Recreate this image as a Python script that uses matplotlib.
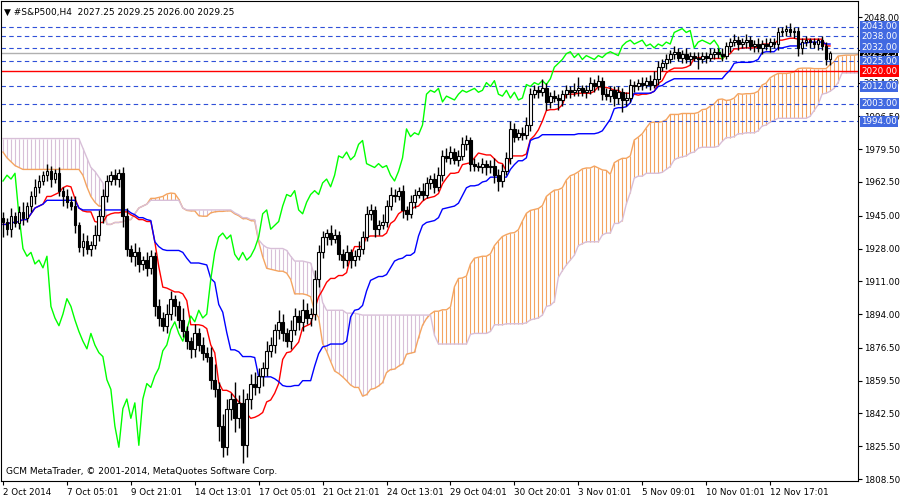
import numpy as np
import pandas as pd
import matplotlib
matplotlib.use("Agg")
import matplotlib.pyplot as plt
import matplotlib.transforms as mtransforms

# H4 closes
closes = [
    1942, 1938, 1945, 1941, 1947, 1944, 1950, 1955, 1960, 1963,
    1966, 1968, 1964, 1967, 1958, 1955, 1952, 1950, 1940, 1929,
    1932, 1928, 1930, 1935, 1945, 1955, 1963, 1966, 1964, 1967,
    1945, 1928, 1924, 1926, 1920, 1922, 1918, 1924, 1898, 1892,
    1888, 1894, 1902, 1898, 1891, 1885, 1880, 1876, 1884, 1878,
    1874, 1872, 1860, 1855, 1836, 1825, 1845, 1850, 1840, 1848,
    1826, 1850, 1858, 1856, 1862, 1866, 1875, 1878, 1886, 1890,
    1884, 1880, 1886, 1893, 1890, 1896, 1892, 1894, 1912, 1926,
    1934, 1936, 1933, 1935, 1925, 1922, 1926, 1922, 1924, 1928,
    1934, 1946, 1948, 1938, 1940, 1942, 1950, 1956, 1955, 1958,
    1948, 1946, 1952, 1956, 1958, 1956, 1962, 1964, 1960, 1966,
    1976, 1975, 1978, 1974, 1976, 1982, 1984, 1972, 1971, 1970,
    1972, 1970, 1971, 1966, 1963, 1968, 1975, 1990, 1986, 1988,
    1987, 1992, 2008, 2010, 2009, 2011, 2004, 2007, 2006, 2005,
    2008, 2010, 2009, 2010, 2011, 2009, 2010, 2014, 2012, 2015,
    2008, 2007, 2010, 2006, 2009, 2005, 2006, 2013, 2012, 2014,
    2013, 2015, 2013, 2016, 2022, 2024, 2026, 2029, 2030, 2027,
    2029, 2026, 2028, 2027, 2026, 2028, 2027, 2029, 2030, 2029,
    2028, 2033, 2035, 2036, 2034, 2035, 2036, 2033, 2034, 2032,
    2034, 2033, 2035, 2034, 2040, 2041, 2042, 2040, 2041, 2032,
    2035, 2036, 2035, 2034, 2036, 2033, 2026, 2029.25,
]
wick_up = [
    3, 2, 4, 2, 3, 5, 2, 3, 4, 3,
    2, 4, 3, 2, 3, 2, 4, 3, 5, 2,
    4, 3, 2, 5, 3, 4, 3, 2, 3, 2,
    3, 4, 2, 5, 3, 2, 4, 3, 2, 4,
    3, 5, 4, 2, 3, 6, 3, 2, 5, 3,
    4, 3, 5, 8, 4, 6, 5, 3, 9, 4,
    7, 3, 5, 6, 4, 3, 5, 4, 3, 6,
    4, 3, 5, 4, 3, 6, 4, 3, 5, 4,
    3, 2, 4, 3, 2, 3, 4, 2, 3, 4,
    3, 4, 3, 2, 3, 4, 3, 4, 3, 2,
    3, 2, 4, 3, 2, 4, 3, 2, 3, 4,
    3, 4, 3, 2, 3, 4, 3, 2, 3, 2,
    3, 2, 3, 4, 3, 4, 3, 4, 3, 2,
    3, 4, 3, 3, 2, 5, 3, 2, 3, 2,
    2, 3, 2, 4, 6, 2, 3, 3, 2, 3,
    2, 3, 2, 2, 3, 2, 3, 3, 2, 2,
    3, 2, 3, 4, 3, 2, 3, 2, 3, 2,
    2, 3, 2, 2, 3, 2, 2, 3, 2, 2,
    3, 2, 2, 3, 2, 2, 3, 2, 2, 3,
    2, 3, 2, 2, 3, 2, 2, 3, 2, 2,
    2, 2, 1, 2, 1, 2, 2, 1,
]
wick_dn = [
    8, 3, 4, 2, 3, 4, 2, 3, 4, 3,
    2, 3, 4, 2, 3, 5, 3, 2, 4, 3,
    5, 3, 4, 2, 3, 4, 3, 2, 3, 4,
    6, 4, 3, 5, 4, 3, 4, 3, 5, 4,
    3, 4, 3, 5, 4, 3, 4, 5, 4, 3,
    4, 3, 5, 4, 8, 5, 4, 6, 7, 5,
    9, 6, 5, 4, 3, 5, 4, 3, 4, 5,
    4, 3, 4, 3, 4, 5, 3, 4, 3, 4,
    3, 4, 3, 2, 3, 4, 3, 4, 3, 2,
    3, 2, 3, 4, 3, 2, 3, 2, 3, 2,
    4, 3, 2, 3, 2, 3, 2, 3, 3, 2,
    3, 2, 3, 2, 3, 2, 3, 4, 3, 2,
    3, 4, 3, 4, 5, 3, 2, 3, 3, 2,
    3, 2, 3, 2, 3, 2, 4, 3, 2, 5,
    3, 2, 3, 2, 3, 2, 3, 2, 3, 2,
    3, 2, 3, 4, 3, 6, 3, 2, 3, 2,
    3, 2, 3, 2, 3, 2, 3, 2, 3, 2,
    3, 2, 3, 2, 5, 2, 3, 2, 3, 2,
    3, 2, 3, 2, 3, 2, 3, 2, 3, 2,
    3, 2, 3, 2, 3, 2, 3, 2, 3, 4,
    3, 2, 3, 2, 3, 2, 3, 3,
]
# cloud values for the 26 bars before the first candle's Senkou data
span_a_pre = [1978, 1975, 1973, 1971, 1970, 1969, 1969, 1969, 1969, 1969,
              1969, 1969, 1969, 1969, 1969, 1969, 1969, 1969, 1969, 1969,
              1966, 1960, 1955, 1952, 1950, 1950]
span_b_pre = [1985, 1985, 1985, 1985, 1985, 1985, 1985, 1985, 1985, 1985,
              1985, 1985, 1985, 1985, 1985, 1985, 1985, 1985, 1985, 1985,
              1980, 1975, 1970, 1968, 1965, 1962]

tick_labels = ["2 Oct 2014", "7 Oct 05:01", "9 Oct 21:01", "14 Oct 13:01",
               "17 Oct 05:01", "21 Oct 21:01", "24 Oct 13:01", "29 Oct 04:01",
               "30 Oct 20:01", "3 Nov 01:01", "5 Nov 09:01", "10 Nov 01:01",
               "12 Nov 17:01"]
y_ticks = [2048.0, 2031.0, 2014.0, 1996.5, 1979.5, 1962.5, 1945.0, 1928.0,
           1911.0, 1894.0, 1876.5, 1859.5, 1842.5, 1825.5, 1808.5]
blue_levels = [2043, 2038, 2032, 2025, 2012, 2003, 1994]
red_level = 2020
last_price = 2029.25

c = pd.Series(closes, dtype=float)
o = c.shift(1).fillna(c.iloc[0] + 2)
h = np.maximum(o, c) + np.array(wick_up)
l = np.minimum(o, c) - np.array(wick_dn)
n = len(c)
idx = np.arange(n)

# ichimoku 9/26/52
tenkan = (h.rolling(9, min_periods=1).max() + l.rolling(9, min_periods=1).min()) / 2
kijun = (h.rolling(26, min_periods=1).max() + l.rolling(26, min_periods=1).min()) / 2
span_a = np.concatenate([span_a_pre, ((tenkan + kijun) / 2).values])
span_b = np.concatenate([span_b_pre,
                         ((h.rolling(52, min_periods=1).max() + l.rolling(52, min_periods=1).min()) / 2).values])
cloud_x = np.arange(len(span_a))

fig = plt.figure(figsize=(9, 5), dpi=100)
ax = fig.add_axes([1 / 900, 19 / 500, 857 / 900, 480 / 500])
ax.set_xlim(-0.5, 214)
ax.set_ylim(1807.5, 2056.3)

# cloud hatch
up = span_a >= span_b
ax.vlines(cloud_x[up], span_b[up], span_a[up], color="#f4a460", lw=0.8)
ax.vlines(cloud_x[~up], span_a[~up], span_b[~up], color="#d8bfd8", lw=0.8)
ax.plot(cloud_x, span_a, color="#f4a460", lw=1)
ax.plot(cloud_x, span_b, color="#d8bfd8", lw=1)

for lv in blue_levels:
    ax.axhline(lv, color="#3050d8", lw=0.8, ls=(0, (4, 3)))
ax.axhline(red_level, color="red", lw=1)
ax.axhline(last_price, color="#b0b0b0", lw=1)

ax.plot(idx, tenkan, color="red", lw=1)
ax.plot(idx, kijun, color="blue", lw=1)
ax.plot(idx[:-26], c.values[26:], color="#00ff00", lw=1)

# candles
ax.vlines(idx, l, h, color="black", lw=1, zorder=3)
for i in range(n):
    bull = c[i] >= o[i]
    lo, hi = min(o[i], c[i]), max(o[i], c[i])
    ax.add_patch(plt.Rectangle((i - 0.35, lo), 0.7, max(hi - lo, 0.3),
                               facecolor="white" if bull else "black",
                               edgecolor="black", lw=0.8, zorder=4))

ax.yaxis.tick_right()
ax.set_yticks(y_ticks)
ax.set_yticklabels([f"{v:.2f}" for v in y_ticks])
ax.tick_params(axis="y", labelsize=6.3, length=3, direction="out", pad=1)
ax.set_xticks(np.arange(0, 16 * len(tick_labels), 16))
ax.set_xticklabels(tick_labels, ha="left")
ax.tick_params(axis="x", labelsize=6.3, length=3, direction="out", pad=2)
for s in ax.spines.values():
    s.set_color("black")

tr = mtransforms.blended_transform_factory(ax.transAxes, ax.transData)
box = dict(boxstyle="square,pad=0.12", ec="none")
for lv in blue_levels:
    ax.text(1.004, lv, f"{lv:.2f}", transform=tr, fontsize=6.3, color="white", va="center",
            bbox=dict(box, fc="#4169e1"), zorder=6)
ax.text(1.004, red_level, f"{red_level:.2f}", transform=tr, fontsize=6.3, color="white", va="center",
        bbox=dict(box, fc="red"), zorder=6)
ax.text(1.004, last_price, f"{last_price:.2f}", transform=tr, fontsize=6.3, color="white", va="center",
        bbox=dict(box, fc="black"), zorder=5)

ax.text(0.004, 0.985, "\u25bc #S&P500,H4  2027.25 2029.25 2026.00 2029.25", transform=ax.transAxes,
        fontsize=6.5, va="top", ha="left")
ax.text(0.006, 0.01, "GCM MetaTrader, \u00a9 2001-2014, MetaQuotes Software Corp.", transform=ax.transAxes,
        fontsize=6.5, va="bottom", ha="left")

fig.savefig("out.png", dpi=100)
